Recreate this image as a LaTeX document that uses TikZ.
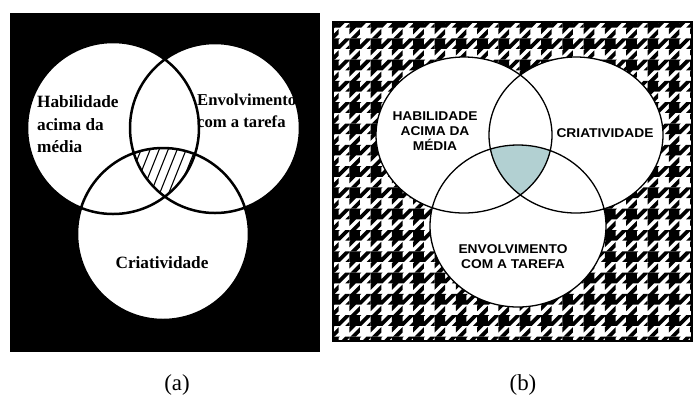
\documentclass[tikz,border=0pt]{standalone}
\usepackage{fontspec}
\setmainfont{Liberation Serif}
\newfontfamily\hsans{Liberation Sans}
\definecolor{venncyan}{RGB}{178,208,210}
\begin{document}
\begin{tikzpicture}[x=1bp,y=-1bp,
  ring/.style={draw=black,line width=2.5bp},
  thinring/.style={draw=black,line width=1.3bp},
  serlbl/.style={font=\fontsize{17.3}{21}\selectfont\bfseries, inner sep=0, anchor=base west},
  serlblb/.style={font=\fontsize{16.7}{21}\selectfont\bfseries, inner sep=0, anchor=base west},
  sanlbl/.style={font=\hsans\fontsize{12.8}{15}\selectfont\bfseries, inner sep=0, anchor=base, xscale=1.08},
  caplbl/.style={font=\fontsize{23}{26}\selectfont, inner sep=0}]
\useasboundingbox (0,0) rectangle (694,400);

% ---------- panel (a) ----------
\fill[black] (10,13) rectangle (320,352);
\fill[white] (113,128) circle[radius=86] (215,128) circle[radius=85] (163,234) circle[radius=86];
\begin{scope}
  \clip (113,128) circle[radius=86];
  \clip (215,128) circle[radius=85];
  \clip (163,234) circle[radius=86];
  \foreach \k in {0,...,16} \draw[line width=1.1bp] (88+\k*9,215) -- ++(30,-75);
\end{scope}
\draw[ring] (113,128) circle[radius=86] (215,128) circle[radius=85] (163,234) circle[radius=86];

\node[serlbl] (ha1) at (37,107) {Habilidade};
\node[serlbl] (ha2) at (37,130) {acima da};
\node[serlbl] (ha3) at (37,152) {média};
\node[serlblb] (en1) at (197,105) {Envolvimento};
\node[serlblb] (en2) at (197,127) {com a tarefa};
\node[serlbl, anchor=base] (cr) at (162,268) {Criatividade};

% ---------- panel (b) ----------
\begin{scope}
  \clip (333,22) rectangle (692,341);
  \fill[white] (333,22) rectangle (692,341);
  \foreach \i in {0,...,17}{
    \foreach \j in {0,...,15}{
      \begin{scope}[shift={(328+\i*21.3,17+\j*21.3)},scale=2.6625]
        \fill[black] (0,0) -- (4,0) -- (4,4) -- (0,4) -- cycle
          (6.5,0) -- (8,0) -- (8,0.5) -- (4.5,4) -- (4,4) -- (4,2.5) -- cycle
          (6.5,4) -- (8,4) -- (8,2.5) -- cycle
          (4,0) -- (4.5,0) -- (4,0.5) -- cycle
          (0.5,4) -- (2.5,4) -- (0,6.5) -- (0,4.5) -- cycle
          (4,4.5) -- (4,6.5) -- (2.5,8) -- (0.5,8) -- cycle;
      \end{scope}
    }
  }
\end{scope}
\draw[line width=1.5bp] (333,22) rectangle (692,341);

\fill[white] (464,135) ellipse[x radius=88,y radius=78]
             (576,135) ellipse[x radius=87,y radius=78]
             (518,226) ellipse[x radius=88,y radius=81];
\begin{scope}
  \clip (464,135) ellipse[x radius=88,y radius=78];
  \clip (576,135) ellipse[x radius=87,y radius=78];
  \fill[venncyan] (518,226) ellipse[x radius=88,y radius=81];
\end{scope}
\draw[thinring] (464,135) ellipse[x radius=88,y radius=78]
                (576,135) ellipse[x radius=87,y radius=78]
                (518,226) ellipse[x radius=88,y radius=81];

\node[sanlbl] (hb1) at (435,120) {HABILIDADE};
\node[sanlbl] (hb2) at (435,135) {ACIMA DA};
\node[sanlbl] (hb3) at (435,150) {MÉDIA};
\node[sanlbl] (crb) at (605,137) {CRIATIVIDADE};
\node[sanlbl] (eb1) at (513,253) {ENVOLVIMENTO};
\node[sanlbl] (eb2) at (513,268) {COM A TAREFA};

% ---------- captions ----------
\node[caplbl] (capa) at (177,385) {(a)};
\node[caplbl] (capb) at (523,385) {(b)};
\end{tikzpicture}
\end{document}
